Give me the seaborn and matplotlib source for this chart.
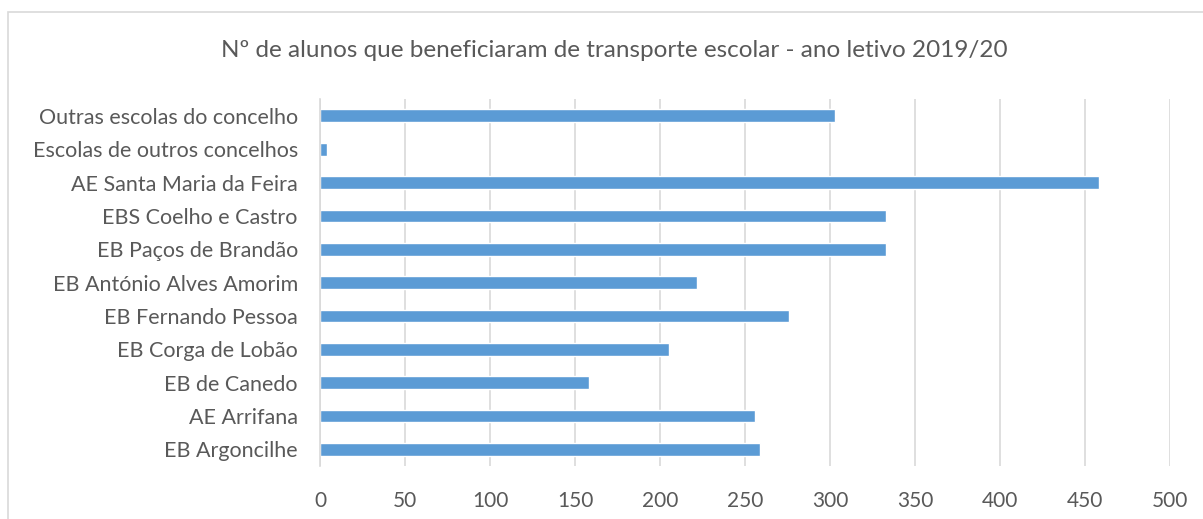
import matplotlib
matplotlib.use("Agg")
import matplotlib.pyplot as plt
import seaborn as sns
import pandas as pd
from matplotlib.patches import Rectangle

# categories listed top to bottom as in the chart
schools = [
    "Outras escolas do concelho",
    "Escolas de outros concelhos",
    "AE Santa Maria da Feira",
    "EBS Coelho e Castro",
    "EB Paços de Brandão",
    "EB António Alves Amorim",
    "EB Fernando Pessoa",
    "EB Corga de Lobão",
    "EB de Canedo",
    "AE Arrifana",
    "EB Argoncilhe",
]
students = [303, 4, 458, 333, 333, 222, 276, 205, 158, 256, 259]
x_ticks = [0, 50, 100, 150, 200, 250, 300, 350, 400, 450, 500]

title = "Nº de alunos que beneficiaram de transporte escolar - ano letivo 2019/20"

df = pd.DataFrame({"escola": schools, "alunos": students})

sns.set_style("white")
plt.rcParams["font.family"] = ["Lato", "DejaVu Sans"]

fig = plt.figure(figsize=(12.03, 5.19), dpi=100)
ax = fig.add_axes([0.266, 0.102, 0.7066, 0.707])

sns.barplot(data=df, x="alunos", y="escola", order=schools, color="#5B9BD5",
            saturation=1, width=0.38, ax=ax)

ax.set_xlim(0, 500)
ax.set_ylim(len(schools) - 0.5, -0.5)
ax.set_xticks(x_ticks)
ax.xaxis.grid(True, color="#D9D9D9", linewidth=1.2)
ax.set_axisbelow(True)
ax.set_xlabel("")
ax.set_ylabel("")
for s in ["top", "right", "bottom"]:
    ax.spines[s].set_visible(False)
ax.spines["left"].set_color("#D9D9D9")
ax.spines["left"].set_linewidth(1.2)
ax.tick_params(axis="x", length=0, pad=18, labelsize=15, labelcolor="#595959")
ax.tick_params(axis="y", length=0, pad=16, labelsize=15.5, labelcolor="#595959")

fig.text(0.511, 0.902, title, ha="center", va="center", fontsize=17.5, color="#595959")

# chart area border (cut off at the right edge like the screenshot)
fig.patches.append(Rectangle((8 / 1203, -0.1), 1.2, 1.1 - 12 / 519,
                             transform=fig.transFigure, fill=False,
                             edgecolor="#D9D9D9", linewidth=1.2))

fig.savefig("out.png", dpi=100)
